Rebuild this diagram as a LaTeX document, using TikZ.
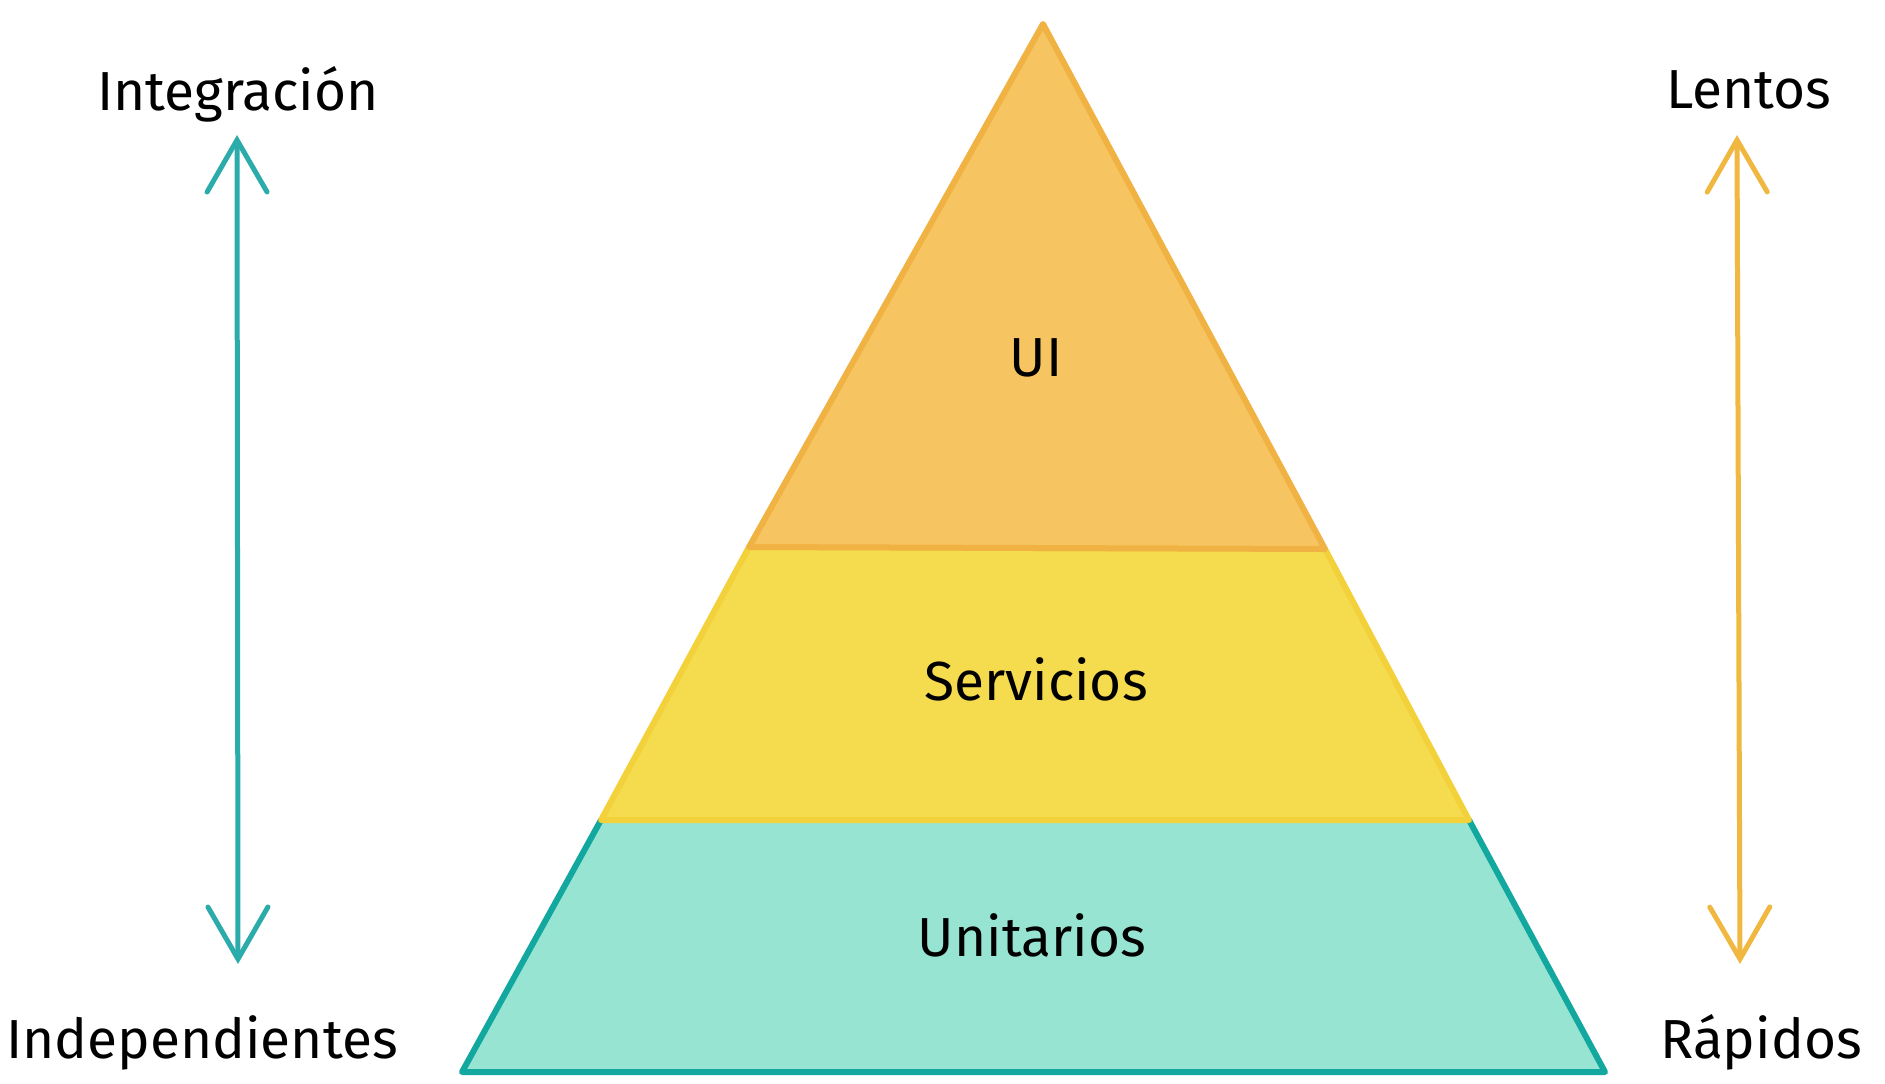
\documentclass[tikz,border=0pt]{standalone}
\usepackage{fontspec}
\setmainfont{Fira Sans}
\usepackage{tikz}
\usetikzlibrary{arrows.meta,positioning}

\definecolor{uifill}{HTML}{F6C461}
\definecolor{uiline}{HTML}{F0B343}
\definecolor{srvfill}{HTML}{F5DB4E}
\definecolor{srvline}{HTML}{F3D13B}
\definecolor{unifill}{HTML}{98E4D3}
\definecolor{uniline}{HTML}{12A89F}
\definecolor{tealarrow}{HTML}{2BABAA}
\definecolor{orangearrow}{HTML}{F0B840}

\tikzset{
  label/.style={font=\fontsize{27.5}{30}\selectfont, anchor=base, inner sep=0pt},
  scale arrow/.style={line width=2.5pt, line cap=round,
    arrows={Straight Barb[length=26pt,width=30pt,line cap=round]-Straight Barb[length=26pt,width=30pt,line cap=round]}},
  band/.style={line width=3pt, line join=round, line cap=round}
}

\begin{document}
\begin{tikzpicture}[x=0.5pt,y=-0.5pt]
    \useasboundingbox (0,0) rectangle (1885,1083);

    \coordinate (apex) at (1043,24);
    \coordinate (uil) at (749,547);
    \coordinate (uir) at (1325,549);
    \coordinate (srvl) at (601,820);
    \coordinate (srvr) at (1469,820);
    \coordinate (basel) at (462,1072);
    \coordinate (baser) at (1605,1072);

    \filldraw[band, fill=unifill, draw=uniline] (srvl) -- (basel) -- (baser) -- (srvr);
    \filldraw[band, fill=srvfill, draw=srvline] (uil) -- (srvl) -- (srvr) -- (uir) -- cycle;
    \filldraw[band, fill=uifill, draw=uiline] (apex) -- (uil) -- (uir) -- cycle;

    \node[label] (ui) at (1036,376) {UI};
    \node[label] (srv) at (1036,700) {Servicios};
    \node[label] (uni) at (1032,956) {Unitarios};

    \node[label] (integ) at (238,110) {Integración};
    \node[label] (indep) at (202,1058) {Independientes};
    \node[label] (lentos) at (1749,108) {Lentos};
    \node[label] (rapidos) at (1761,1058) {Rápidos};

    \coordinate (intTop) at (237,135);
    \coordinate (intBot) at (238,964);
    \coordinate (lenTop) at (1737,135);
    \coordinate (lenBot) at (1740,964);

    \draw[scale arrow, tealarrow] (intTop) -- (intBot);
    \draw[scale arrow, orangearrow] (lenTop) -- (lenBot);
  \end{tikzpicture}
\end{document}
